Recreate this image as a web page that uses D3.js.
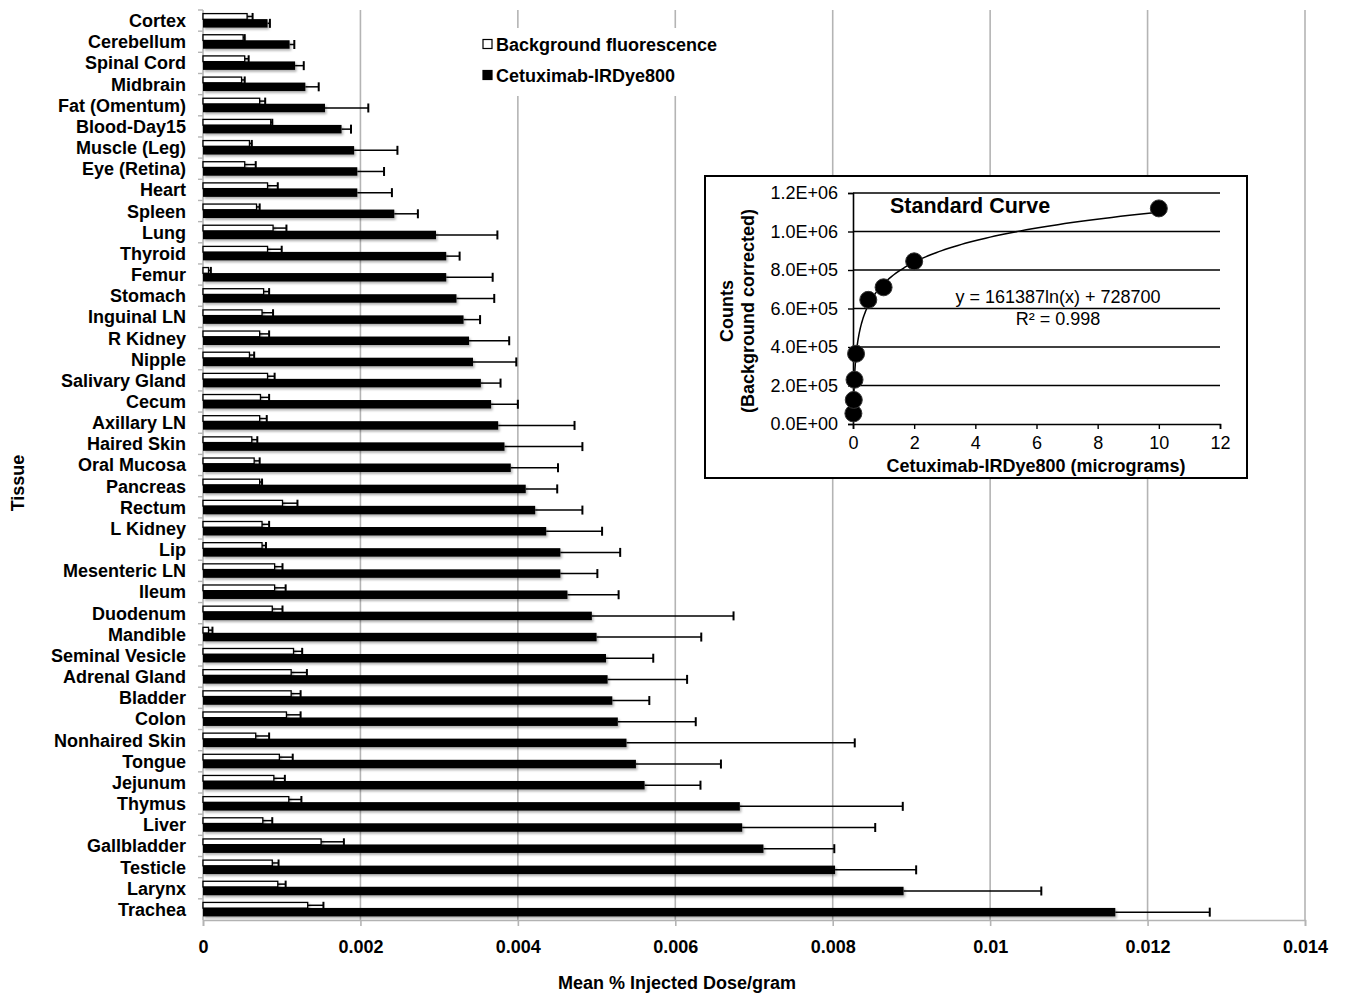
<!DOCTYPE html>
<html>
<head>
  <meta charset="UTF-8">
  <title>Tissue biodistribution</title>
  <script src="https://cdn.jsdelivr.net/npm/d3@7"></script>
  <style>
    body { margin: 0; background: #fff; }
    text { font-family: "Liberation Sans", Arial, sans-serif; fill: #000; }
  </style>
</head>
<body>
<svg width="1346" height="996"></svg>
<script>
// ---- data ----
var tissues = ["Cortex", "Cerebellum", "Spinal Cord", "Midbrain", "Fat (Omentum)", "Blood-Day15",
  "Muscle (Leg)", "Eye (Retina)", "Heart", "Spleen", "Lung", "Thyroid", "Femur", "Stomach",
  "Inguinal LN", "R Kidney", "Nipple", "Salivary Gland", "Cecum", "Axillary LN", "Haired Skin",
  "Oral Mucosa", "Pancreas", "Rectum", "L Kidney", "Lip", "Mesenteric LN", "Ileum", "Duodenum",
  "Mandible", "Seminal Vesicle", "Adrenal Gland", "Bladder", "Colon", "Nonhaired Skin", "Tongue",
  "Jejunum", "Thymus", "Liver", "Gallbladder", "Testicle", "Larynx", "Trachea"];

var background = [0.00056, 0.00051, 0.00053, 0.00049, 0.00072, 0.00086, 0.00059, 0.00053, 0.00082,
  0.00068, 0.00089, 0.00082, 0.00007, 0.00077, 0.00075, 0.00072, 0.00059, 0.00082, 0.00073, 0.00072,
  0.00062, 0.00065, 0.00072, 0.00101, 0.00075, 0.00075, 0.00091, 0.00091, 0.00088, 0.00007, 0.00115,
  0.00112, 0.00112, 0.00106, 0.00067, 0.00097, 0.00090, 0.00109, 0.00076, 0.00150, 0.00088, 0.00095,
  0.00133];
var backgroundErr = [0.00007, 0.00002, 0.00005, 0.00004, 0.00007, 0.00002, 0.00003, 0.00014, 0.00013,
  0.00004, 0.00017, 0.00018, 0.00003, 0.00007, 0.00014, 0.00012, 0.00006, 0.00009, 0.00011, 0.00009,
  0.00007, 0.00007, 0.00003, 0.00019, 0.00009, 0.00005, 0.00010, 0.00014, 0.00013, 0.00005, 0.00011,
  0.00020, 0.00012, 0.00018, 0.00017, 0.00017, 0.00014, 0.00016, 0.00012, 0.00029, 0.00008, 0.00010,
  0.00020];

var cetuximab = [0.00082, 0.00110, 0.00117, 0.00130, 0.00155, 0.00176, 0.00192, 0.00196, 0.00196,
  0.00243, 0.00296, 0.00309, 0.00309, 0.00322, 0.00331, 0.00338, 0.00343, 0.00353, 0.00366, 0.00375,
  0.00383, 0.00391, 0.00410, 0.00422, 0.00436, 0.00454, 0.00454, 0.00463, 0.00494, 0.00500, 0.00512,
  0.00514, 0.00520, 0.00527, 0.00538, 0.00550, 0.00561, 0.00682, 0.00685, 0.00712, 0.00803, 0.00890,
  0.01159];
var cetuximabErr = [0.00003, 0.00006, 0.00011, 0.00017, 0.00055, 0.00012, 0.00055, 0.00034, 0.00044,
  0.00030, 0.00078, 0.00017, 0.00059, 0.00048, 0.00021, 0.00051, 0.00055, 0.00025, 0.00034, 0.00097,
  0.00099, 0.00060, 0.00040, 0.00060, 0.00071, 0.00076, 0.00047, 0.00065, 0.00180, 0.00133, 0.00060,
  0.00101, 0.00047, 0.00099, 0.00290, 0.00108, 0.00071, 0.00207, 0.00169, 0.00090, 0.00103, 0.00175,
  0.00120];

var xTicks = [0, 0.002, 0.004, 0.006, 0.008, 0.01, 0.012, 0.014];
var seriesNames = ["Background fluorescence", "Cetuximab-IRDye800"];

// standard curve inset
var stdMicrograms = [0.0125, 0.025, 0.05, 0.1, 0.5, 1, 2, 10];
var stdCounts = [55000, 125000, 230000, 365000, 645000, 710000, 845000, 1120000];
var fitSlope = 161387;
var fitIntercept = 728700;
var insetXTicks = [0, 2, 4, 6, 8, 10, 12];
var insetYTicks = [0, 200000, 400000, 600000, 800000, 1000000, 1200000];

var rows = tissues.map(function(t, i) {
  return { name: t, bg: background[i], bgErr: backgroundErr[i], cet: cetuximab[i], cetErr: cetuximabErr[i] };
});

var svg = d3.select("svg");
var gridColor = "#b4b4b4";

var defs = svg.append("defs");
var shadow = defs.append("filter").attr("id", "shadow")
  .attr("x", "-5%").attr("y", "-50%").attr("width", "110%").attr("height", "200%");
shadow.append("feDropShadow")
  .attr("dx", 1.5).attr("dy", 2).attr("stdDeviation", 1.2)
  .attr("flood-color", "#000").attr("flood-opacity", 0.3);

// ---- main chart ----
var plotLeft = 203, plotRight = 1305, plotTop = 10, plotBottom = 920;

var x = d3.scaleLinear().domain([0, 0.014]).range([plotLeft, plotRight]);
var y = d3.scaleBand().domain(tissues).range([plotTop, plotBottom]).paddingInner(0).paddingOuter(0);
var bw = y.bandwidth();

// vertical gridlines
svg.append("g").selectAll("line")
  .data(xTicks.slice(1))
  .enter().append("line")
  .attr("x1", function(d) { return x(d); })
  .attr("x2", function(d) { return x(d); })
  .attr("y1", plotTop)
  .attr("y2", plotBottom)
  .attr("stroke", gridColor)
  .attr("stroke-width", 1.6);

// bottom axis
var xAxis = svg.append("g")
  .attr("transform", "translate(0," + plotBottom + ")")
  .call(d3.axisBottom(x).tickValues(xTicks).tickSize(6).tickPadding(14)
    .tickFormat(function(d) { return String(d); }));
xAxis.select(".domain").attr("stroke", gridColor).attr("stroke-width", 1.6);
xAxis.selectAll(".tick line").attr("stroke", gridColor).attr("stroke-width", 1.6);
xAxis.selectAll(".tick text")
  .style("font-size", "18px").style("font-weight", "bold").attr("fill", "#000");

// left axis: line + ticks at band edges
svg.append("line")
  .attr("x1", plotLeft).attr("x2", plotLeft).attr("y1", plotTop).attr("y2", plotBottom)
  .attr("stroke", gridColor).attr("stroke-width", 1.6);
svg.append("g").selectAll("line")
  .data(tissues)
  .enter().append("line")
  .attr("x1", plotLeft - 5).attr("x2", plotLeft)
  .attr("y1", function(d) { return y(d); })
  .attr("y2", function(d) { return y(d); })
  .attr("stroke", gridColor).attr("stroke-width", 1.4);

// category labels
svg.append("g").selectAll("text")
  .data(tissues)
  .enter().append("text")
  .attr("x", 186)
  .attr("y", function(d) { return y(d) + bw / 2; })
  .attr("dy", "0.36em")
  .attr("text-anchor", "end")
  .style("font-size", "18px")
  .style("font-weight", "bold")
  .text(function(d) { return d; });

// bars
var bgTop = 0.17, bgH = 0.27, cetTop = 0.43, cetH = 0.40;

var bars = svg.append("g").attr("filter", "url(#shadow)");
bars.selectAll("rect.bg")
  .data(rows)
  .enter().append("rect")
  .attr("class", "bg")
  .attr("x", x(0))
  .attr("y", function(d) { return y(d.name) + bw * bgTop; })
  .attr("width", function(d) { return x(d.bg) - x(0); })
  .attr("height", bw * bgH)
  .attr("fill", "#fff")
  .attr("stroke", "#000")
  .attr("stroke-width", 1.3);

bars.selectAll("rect.cet")
  .data(rows)
  .enter().append("rect")
  .attr("class", "cet")
  .attr("x", x(0))
  .attr("y", function(d) { return y(d.name) + bw * cetTop; })
  .attr("width", function(d) { return x(d.cet) - x(0); })
  .attr("height", bw * cetH)
  .attr("fill", "#000");

// error bars
function errorBars(cls, valKey, errKey, offset, capH) {
  var g = svg.append("g").attr("class", cls);
  g.selectAll("line.stem")
    .data(rows)
    .enter().append("line")
    .attr("class", "stem")
    .attr("x1", function(d) { return x(d[valKey]); })
    .attr("x2", function(d) { return x(d[valKey] + d[errKey]); })
    .attr("y1", function(d) { return y(d.name) + bw * offset; })
    .attr("y2", function(d) { return y(d.name) + bw * offset; })
    .attr("stroke", "#000").attr("stroke-width", 1.5);
  g.selectAll("line.cap")
    .data(rows)
    .enter().append("line")
    .attr("class", "cap")
    .attr("x1", function(d) { return x(d[valKey] + d[errKey]); })
    .attr("x2", function(d) { return x(d[valKey] + d[errKey]); })
    .attr("y1", function(d) { return y(d.name) + bw * offset - capH / 2; })
    .attr("y2", function(d) { return y(d.name) + bw * offset + capH / 2; })
    .attr("stroke", "#000").attr("stroke-width", 2);
}
errorBars("bg-err", "bg", "bgErr", bgTop + bgH / 2, 7);
errorBars("cet-err", "cet", "cetErr", cetTop + cetH / 2, 9);

// axis titles
svg.append("text")
  .attr("transform", "translate(18,483) rotate(-90)")
  .attr("text-anchor", "middle")
  .attr("dominant-baseline", "central")
  .style("font-size", "18px").style("font-weight", "bold")
  .text("Tissue");

svg.append("text")
  .attr("x", 677).attr("y", 989)
  .attr("text-anchor", "middle")
  .style("font-size", "18px").style("font-weight", "bold")
  .text("Mean % Injected Dose/gram");

// legend
var legend = svg.append("g");
legend.append("rect")
  .attr("x", 476).attr("y", 28).attr("width", 254).attr("height", 68)
  .attr("fill", "#fff");
legend.selectAll("rect.key")
  .data(seriesNames)
  .enter().append("rect")
  .attr("class", "key")
  .attr("x", 483)
  .attr("y", function(d, i) { return 39.5 + i * 31; })
  .attr("width", 9).attr("height", 9)
  .attr("fill", function(d, i) { return i === 0 ? "#fff" : "#000"; })
  .attr("stroke", "#000").attr("stroke-width", 1.2);
legend.selectAll("text")
  .data(seriesNames)
  .enter().append("text")
  .attr("x", 496)
  .attr("y", function(d, i) { return 45 + i * 31; })
  .attr("dy", "0.36em")
  .style("font-size", "18px").style("font-weight", "bold")
  .text(function(d) { return d; });

// ---- inset: standard curve ----
var inset = svg.append("g");
inset.append("rect")
  .attr("x", 705).attr("y", 176).attr("width", 542).attr("height", 302)
  .attr("fill", "#fff").attr("stroke", "#000").attr("stroke-width", 2);

var sx = d3.scaleLinear().domain([0, 12]).range([853, 1220]);
var sy = d3.scaleLinear().domain([0, 1200000]).range([424, 193]);

inset.append("g").selectAll("line")
  .data(insetYTicks.slice(1))
  .enter().append("line")
  .attr("x1", sx(0)).attr("x2", sx(12))
  .attr("y1", function(d) { return sy(d); })
  .attr("y2", function(d) { return sy(d); })
  .attr("stroke", "#000").attr("stroke-width", 1.4);

function sci(d) {
  var p = d.toExponential(1).split("e");
  var e = parseInt(p[1], 10);
  return p[0] + "E" + (e < 0 ? "-" : "+") + (Math.abs(e) < 10 ? "0" : "") + Math.abs(e);
}

var iy = inset.append("g")
  .attr("transform", "translate(" + sx(0) + ",0)")
  .call(d3.axisLeft(sy).tickValues(insetYTicks).tickSize(5).tickPadding(10).tickFormat(sci));
var ix = inset.append("g")
  .attr("transform", "translate(0," + sy(0) + ")")
  .call(d3.axisBottom(sx).tickValues(insetXTicks).tickSize(5).tickPadding(7).tickFormat(d3.format("d")));
[iy, ix].forEach(function(a) {
  a.select(".domain").attr("stroke", "#000").attr("stroke-width", 1.6);
  a.selectAll(".tick line").attr("stroke", "#000").attr("stroke-width", 1.4);
  a.selectAll(".tick text").style("font-size", "18px").attr("fill", "#000");
});

// log trendline
var curveX = d3.range(0, 201).map(function(i) {
  return stdMicrograms[0] * Math.pow(stdMicrograms[stdMicrograms.length - 1] / stdMicrograms[0], i / 200);
});
inset.append("path")
  .datum(curveX)
  .attr("fill", "none")
  .attr("stroke", "#000")
  .attr("stroke-width", 1.5)
  .attr("d", d3.line()
    .x(function(d) { return sx(d); })
    .y(function(d) { return sy(Math.max(0, fitSlope * Math.log(d) + fitIntercept)); }));

inset.append("g").selectAll("circle")
  .data(stdMicrograms)
  .enter().append("circle")
  .attr("cx", function(d) { return sx(d); })
  .attr("cy", function(d, i) { return sy(stdCounts[i]); })
  .attr("r", 8.5)
  .attr("fill", "#000")
  .attr("stroke", "#333").attr("stroke-width", 1);

inset.append("text")
  .attr("x", 890).attr("y", 205)
  .attr("dy", "0.36em")
  .style("font-size", "21.5px").style("font-weight", "bold")
  .text("Standard Curve");

inset.append("text")
  .attr("x", 1058).attr("y", 297)
  .attr("dy", "0.36em")
  .attr("text-anchor", "middle")
  .style("font-size", "18px")
  .text("y = " + fitSlope + "ln(x) + " + fitIntercept);
inset.append("text")
  .attr("x", 1058).attr("y", 319)
  .attr("dy", "0.36em")
  .attr("text-anchor", "middle")
  .style("font-size", "18px")
  .text("R\u00b2 = 0.998");

inset.append("text")
  .attr("x", 1036).attr("y", 466)
  .attr("dy", "0.36em")
  .attr("text-anchor", "middle")
  .style("font-size", "18px").style("font-weight", "bold")
  .text("Cetuximab-IRDye800 (micrograms)");

inset.append("text")
  .attr("transform", "translate(727,311) rotate(-90)")
  .attr("text-anchor", "middle")
  .attr("dominant-baseline", "central")
  .style("font-size", "18px").style("font-weight", "bold")
  .text("Counts");
inset.append("text")
  .attr("transform", "translate(748,311) rotate(-90)")
  .attr("text-anchor", "middle")
  .attr("dominant-baseline", "central")
  .style("font-size", "18px").style("font-weight", "bold")
  .text("(Background corrected)");
</script>
</body>
</html>
